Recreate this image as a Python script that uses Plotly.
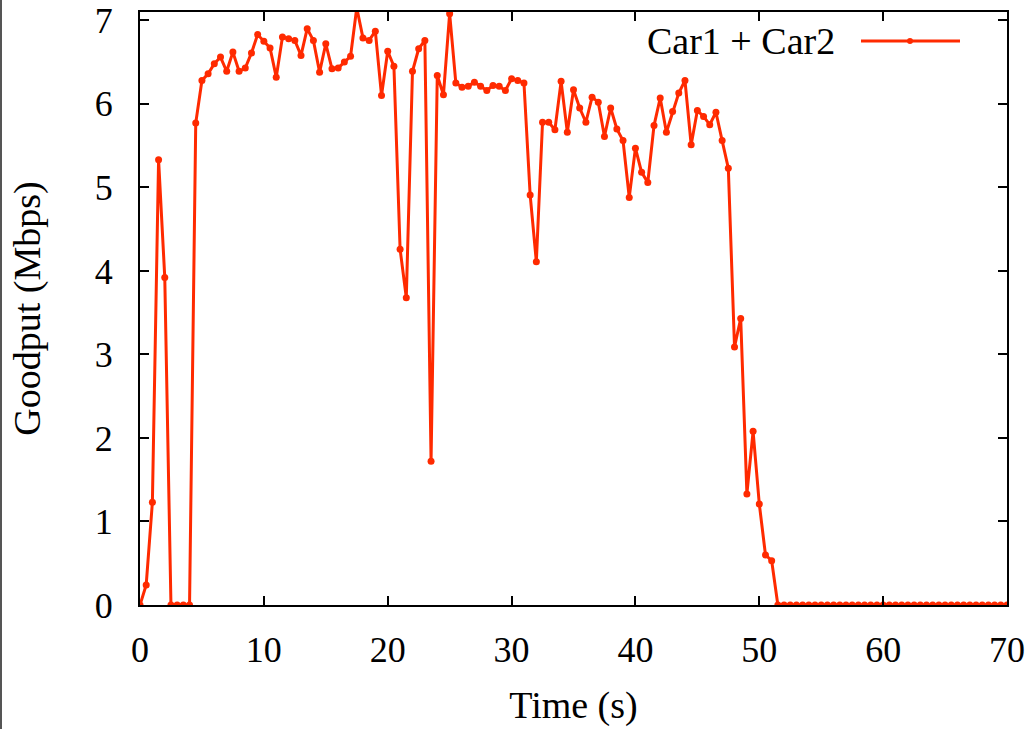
import plotly.graph_objects as go

# Time axis: samples every 0.5 s from 0 to 70 s
time_s = [i * 0.5 for i in range(141)]

goodput_mbps = [
    0.00, 0.24, 1.23, 5.33, 3.92, 0.00, 0.00, 0.00, 0.00, 5.77,   # 0 - 4.5
    6.28, 6.36, 6.48, 6.56, 6.39, 6.62, 6.39, 6.43, 6.61, 6.83,   # 5 - 9.5
    6.75, 6.67, 6.32, 6.80, 6.78, 6.76, 6.58, 6.90, 6.76, 6.38,   # 10 - 14.5
    6.72, 6.42, 6.43, 6.50, 6.57, 7.15, 6.79, 6.76, 6.87, 6.10,   # 15 - 19.5
    6.63, 6.45, 4.26, 3.68, 6.39, 6.66, 6.76, 1.72, 6.34, 6.11,   # 20 - 24.5
    7.08, 6.25, 6.20, 6.21, 6.26, 6.21, 6.16, 6.22, 6.21, 6.16,   # 25 - 29.5
    6.30, 6.28, 6.25, 4.91, 4.11, 5.78, 5.78, 5.69, 6.27, 5.66,   # 30 - 34.5
    6.17, 5.95, 5.78, 6.08, 6.02, 5.61, 5.95, 5.70, 5.56, 4.88,   # 35 - 39.5
    5.47, 5.18, 5.06, 5.74, 6.07, 5.66, 5.91, 6.13, 6.28, 5.51,   # 40 - 44.5
    5.92, 5.85, 5.75, 5.90, 5.56, 5.23, 3.09, 3.43, 1.33, 2.08,   # 45 - 49.5
    1.21, 0.60, 0.53,                                             # 50 - 51
] + [0.00] * 38                                                   # 51.5 - 70

series_name = "Car1 + Car2"
x_ticks = [0, 10, 20, 30, 40, 50, 60, 70]
y_ticks = [0, 1, 2, 3, 4, 5, 6, 7]

RED = "#ff2a00"
FONT = "Liberation Serif"

fig = go.Figure()
fig.add_trace(go.Scatter(
    x=time_s, y=goodput_mbps, mode="lines+markers", name=series_name,
    line=dict(color=RED, width=3),
    marker=dict(color=RED, size=7, symbol="circle"),
    cliponaxis=True, showlegend=False,
))

axis_common = dict(
    showgrid=False, zeroline=False, showline=True, linecolor="black", linewidth=2,
    mirror="ticks", ticks="inside", ticklen=9, tickwidth=1.5, tickcolor="black",
    tickfont=dict(family=FONT, size=36, color="black"),
)

fig.update_xaxes(range=[0, 70], tickvals=x_ticks, ticklabelstandoff=12,
                 title=dict(text="Time (s)", font=dict(family=FONT, size=38, color="black"),
                            standoff=22),
                 **axis_common)
fig.update_yaxes(range=[0, 7.1], tickvals=y_ticks, ticklabelstandoff=18,
                 title=dict(text="Goodput (Mbps)", font=dict(family=FONT, size=38, color="black"),
                            standoff=42),
                 **axis_common)

# legend drawn in the gnuplot style: text left, sample right
fig.add_annotation(xref="paper", yref="paper", x=(837 - 140) / 867, y=(605 - 41) / 593,
                   xanchor="right", yanchor="middle", showarrow=False, text=series_name,
                   font=dict(family=FONT, size=38, color="black"))
fig.add_shape(type="line", xref="paper", yref="paper",
              x0=(861 - 140) / 867, x1=(960 - 140) / 867,
              y0=(605 - 41) / 593, y1=(605 - 41) / 593,
              line=dict(color=RED, width=3))
fig.add_shape(type="circle", xref="paper", yref="paper",
              x0=(907 - 140) / 867, x1=(913 - 140) / 867,
              y0=(605 - 44) / 593, y1=(605 - 38) / 593,
              fillcolor=RED, line=dict(color=RED, width=0))
# grey frame line at the left edge of the image
fig.add_shape(type="line", xref="paper", yref="paper",
              x0=-139 / 867, x1=-139 / 867, y0=-124 / 593, y1=12 / 593 + 1,
              line=dict(color="#555555", width=2))

fig.update_layout(
    width=1035, height=729,
    margin=dict(l=140, r=28, t=12, b=124, autoexpand=False),
    paper_bgcolor="white", plot_bgcolor="white",
    font=dict(family=FONT, color="black"),
)

fig.write_html("out.html")
